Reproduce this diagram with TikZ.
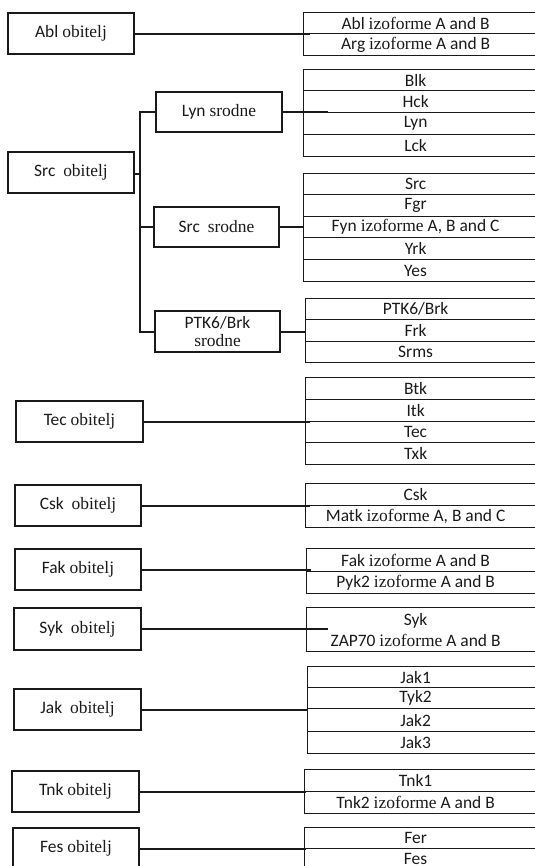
\documentclass[tikz,border=0pt]{standalone}
\usepackage{fontspec}
\setmainfont{Carlito}
\newfontfamily\serifface{Liberation Serif}
\newcommand\sr[1]{{\serifface #1}}
\definecolor{ink}{HTML}{1A1A1A}
\newcommand\rowbox[5]{\node[row, minimum height=#4bp] (#1) at (#2,#3) {#5\hspace*{\the\numexpr 2*(#2-295)\relax bp}};}
\begin{document}
\begin{tikzpicture}[x=1bp,y=-1bp,
  txt/.style={font=\fontsize{17.5}{19}\selectfont, text=ink},
  fam/.style={txt, draw=ink, line width=1.4bp, minimum width=126bp, minimum height=41bp, inner sep=0pt},
  sub/.style={txt, draw=ink, line width=1.3bp, minimum width=126bp, minimum height=40bp, inner sep=0pt, align=center},
  row/.style={txt, draw=ink, line width=1.2bp, minimum width=240bp, anchor=north west, inner sep=0pt},
  conn/.style={draw=ink, line width=2bp}]
\useasboundingbox (0,0) rectangle (535,866);
\clip (0,0) rectangle (535,866);

% family boxes
\node[fam] (abl) at (71,33.5) {Abl \sr{obitelj}};
\node[fam] (srco) at (71,172.5) {Src \ \sr{obitelj}};
\node[fam, minimum width=127bp] (tec) at (79.5,421.5) {Tec \sr{obitelj}};
\node[fam] (csk) at (78,505.5) {Csk \ \sr{obitelj}};
\node[fam] (fak) at (78,569.5) {Fak \sr{obitelj}};
\node[fam, minimum width=127bp, minimum height=42bp] (syk) at (77.5,629) {Syk \ \sr{obitelj}};
\node[fam, minimum width=127bp] (jak) at (77.5,709.5) {Jak \ \sr{obitelj}};
\node[fam, minimum width=127bp] (tnk) at (75.5,791.5) {Tnk \sr{obitelj}};
\node[fam] (fes) at (76,848.5) {Fes \sr{obitelj}};

% Src sub-groups
\node[sub] (lyns) at (219,112) {Lyn \sr{srodne}};
\node[sub, minimum width=125bp] (srcs) at (216.5,227) {Src \ \sr{srodne}};
\node[sub, minimum width=125bp, minimum height=41bp, font=\fontsize{17.5}{18.5}\selectfont] (ptks) at (217.5,331.5) {PTK6/Brk\\\sr{srodne}};

% lists
\rowbox{ablA}{303}{12}{21}{Abl \sr{izoforme} A and B}
\rowbox{argA}{303}{33}{22}{Arg \sr{izoforme} A and B}

\rowbox{blk}{303}{69}{21}{Blk}
\rowbox{hck}{303}{90}{22}{Hck}
\rowbox{lyn}{303}{112}{22}{Lyn}
\rowbox{lck}{303}{134}{22}{Lck}

\rowbox{src}{303}{173}{21}{Src}
\rowbox{fgr}{303}{194}{22}{Fgr}
\rowbox{fyn}{303}{216}{21}{Fyn \sr{izoforme} A, B and C}
\rowbox{yrk}{303}{237}{22}{Yrk}
\rowbox{yes}{303}{259}{22}{Yes}

\rowbox{ptk}{305}{298}{21}{PTK6/Brk}
\rowbox{frk}{305}{319}{22}{Frk}
\rowbox{srms}{305}{341}{21}{Srms}

\rowbox{btk}{305}{377}{22}{Btk}
\rowbox{itk}{305}{399}{22}{Itk}
\rowbox{tecr}{305}{421}{21}{Tec}
\rowbox{txk}{305}{442}{22}{Txk}

\rowbox{cskr}{305}{483}{22}{Csk}
\rowbox{matk}{305}{505}{22}{Matk \sr{izoforme} A, B and C}

\rowbox{fakr}{306}{548}{23}{Fak \sr{izoforme} A and B}
\rowbox{pyk}{306}{571}{22}{Pyk2 \sr{izoforme} A and B}

\node[row, minimum height=44bp, align=center, font=\fontsize{17.5}{21}\selectfont] (sykl) at (306,607) {Syk\hspace*{22bp}\\ZAP70 \sr{izoforme} A and B\hspace*{22bp}};

\rowbox{jak1}{307}{666}{21}{Jak1}
\rowbox{tyk2}{307}{687}{21}{Tyk2}
\rowbox{jak2}{307}{708}{23}{Jak2}
\rowbox{jak3}{307}{731}{22}{Jak3}

\rowbox{tnk1}{304}{769}{22}{Tnk1}
\rowbox{tnk2}{304}{791}{22}{Tnk2 \sr{izoforme} A and B}

\rowbox{fer}{304}{827}{21}{Fer}
\rowbox{fesr}{304}{848}{20}{Fes}

% connectors
\draw[conn, shorten >=-7bp] (abl.east) -- (abl.east -| ablA.west);
\coordinate (trunk) at (140,174);
\draw[conn] (srco.east |- trunk) -- (trunk);
\draw[conn] (lyns.west) -| (trunk) |- (ptks.west);
\draw[conn] (srcs.west) -- (srcs.west -| trunk);
\draw[conn, shorten >=-25bp] (lyns.east) -- (lyns.east -| hck.west);
\draw[conn] (srcs.east) -- (srcs.east -| fyn.west);
\draw[conn] (ptks.east) -- (ptks.east -| frk.west);
\draw[conn, shorten >=-5bp] (tec.east) -- (tec.east -| itk.west);
\draw[conn, shorten >=-5bp] (csk.east) -- (csk.east -| cskr.west);
\draw[conn, shorten >=-5bp] (fak.east) -- (fak.east -| fakr.west);
\draw[conn, shorten >=-22bp] (syk.east) -- (syk.east -| sykl.west);
\draw[conn] (jak.east) -- (jak.east -| tyk2.west);
\draw[conn, shorten >=-2bp] (tnk.east) -- (tnk.east -| tnk1.west);
\draw[conn, shorten >=-2bp] (fes.east) -- (fes.east -| fer.west);
\end{tikzpicture}
\end{document}
